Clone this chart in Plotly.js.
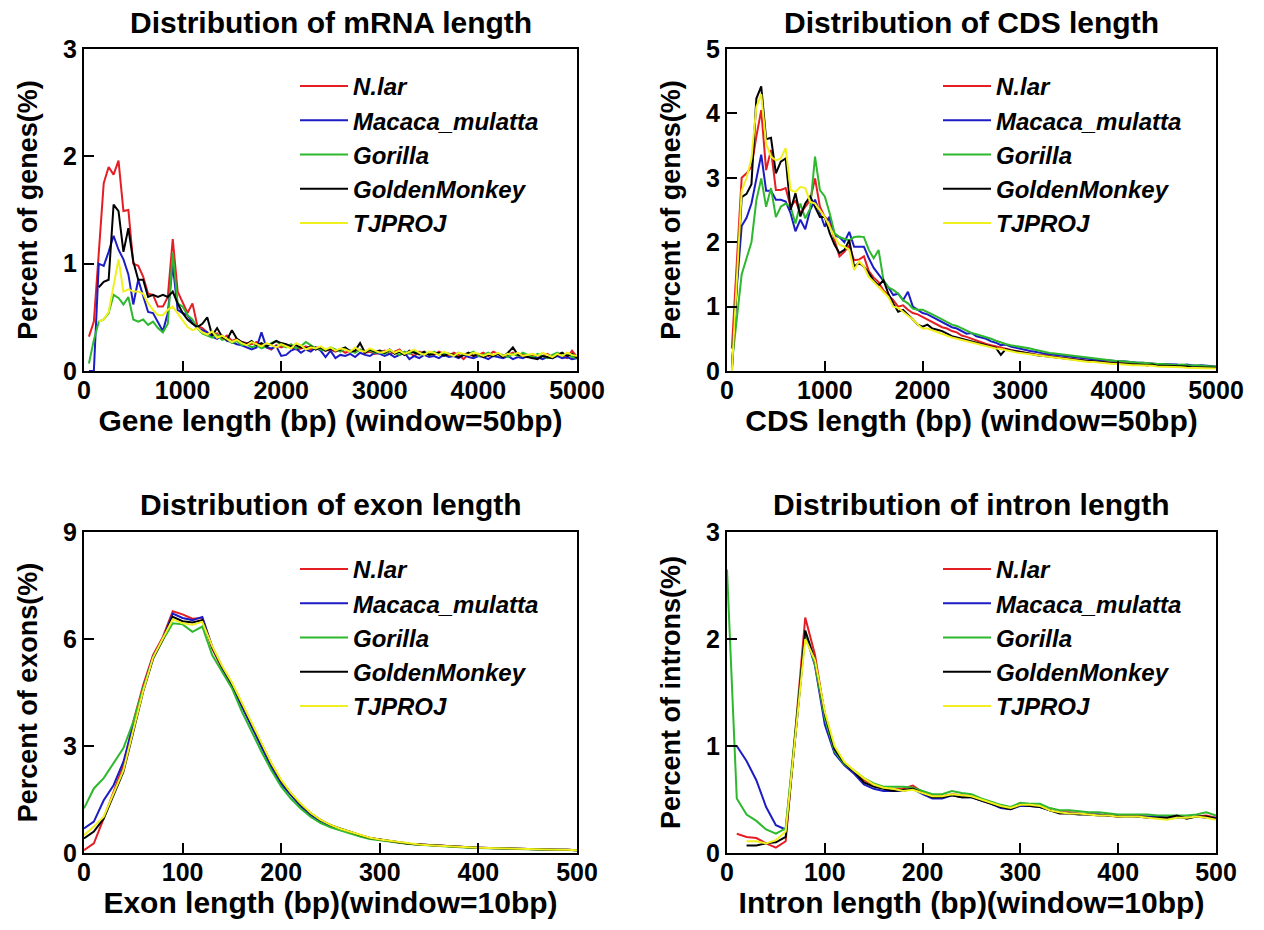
<!DOCTYPE html>
<html><head><meta charset="utf-8">
<script src="https://cdn.plot.ly/plotly-3.0.1.min.js"></script>
<style>html,body{margin:0;padding:0;background:#fff}#chart{width:1264px;height:930px}</style>
</head><body><div id="chart"></div>
<script>
const seriesNames = ['N.lar','Macaca_mulatta','Gorilla','GoldenMonkey','TJPROJ'];
const seriesColors = ['#e41e24','#1c1cc4','#2db82d','#000000','#f0f01e'];

// window = 50bp bins (mRNA and CDS)
const bins50 = [50,100,150,200,250,300,350,400,450,500,
550,600,650,700,750,800,850,900,950,1000,
1050,1100,1150,1200,1250,1300,1350,1400,1450,1500,
1550,1600,1650,1700,1750,1800,1850,1900,1950,2000,
2050,2100,2150,2200,2250,2300,2350,2400,2450,2500,
2550,2600,2650,2700,2750,2800,2850,2900,2950,3000,
3050,3100,3150,3200,3250,3300,3350,3400,3450,3500,
3550,3600,3650,3700,3750,3800,3850,3900,3950,4000,
4050,4100,4150,4200,4250,4300,4350,4400,4450,4500,
4550,4600,4650,4700,4750,4800,4850,4900,4950,5000];

// window = 10bp bins (exon and intron)
const bins10 = [0,10,20,30,40,50,60,70,80,90,
100,110,120,130,140,150,160,170,180,190,
200,210,220,230,240,250,260,270,280,290,
300,310,320,330,340,350,360,370,380,390,
400,410,420,430,440,450,460,470,480,490,500];

// ---- mRNA length (% of genes) ----
const mrnaNlar = [0.32,0.46,1.10,1.75,1.90,1.83,1.96,1.49,1.50,1.00,
0.98,0.88,0.72,0.71,0.60,0.60,0.69,1.23,0.74,0.64,
0.54,0.63,0.42,0.40,0.36,0.33,0.35,0.30,0.33,0.28,
0.30,0.27,0.26,0.25,0.27,0.24,0.22,0.20,0.24,0.22,
0.24,0.22,0.20,0.21,0.23,0.20,0.22,0.21,0.19,0.20,
0.18,0.20,0.17,0.19,0.18,0.20,0.17,0.18,0.16,0.17,
0.19,0.16,0.18,0.20,0.15,0.17,0.14,0.18,0.16,0.17,
0.15,0.18,0.16,0.14,0.17,0.15,0.11,0.16,0.14,0.15,
0.17,0.14,0.18,0.16,0.13,0.15,0.17,0.14,0.16,0.13,
0.15,0.12,0.14,0.16,0.13,0.15,0.14,0.12,0.19,0.13];
const mrnaMacaca = [0,0,1.00,0.98,1.11,1.26,1.13,1.04,0.90,0.62,
0.85,0.69,0.55,0.54,0.46,0.37,0.54,0.99,0.57,0.54,
0.52,0.45,0.40,0.38,0.36,0.32,0.30,0.33,0.28,0.27,
0.25,0.24,0.22,0.20,0.22,0.36,0.22,0.21,0.23,0.14,
0.15,0.19,0.21,0.17,0.20,0.18,0.22,0.19,0.13,0.19,
0.12,0.15,0.14,0.16,0.13,0.17,0.15,0.14,0.17,0.16,
0.14,0.16,0.13,0.15,0.17,0.11,0.14,0.12,0.15,0.13,
0.14,0.12,0.15,0.13,0.14,0.12,0.15,0.13,0.12,0.14,
0.13,0.11,0.14,0.13,0.12,0.14,0.11,0.13,0.12,0.14,
0.12,0.13,0.11,0.13,0.12,0.14,0.12,0.13,0.11,0.12];
const mrnaGorilla = [0.07,0.29,0.46,0.48,0.54,0.71,0.68,0.62,0.69,0.48,
0.46,0.48,0.43,0.46,0.40,0.36,0.44,1.10,0.63,0.60,
0.52,0.48,0.40,0.35,0.33,0.31,0.34,0.29,0.30,0.26,
0.28,0.24,0.25,0.22,0.24,0.21,0.23,0.26,0.28,0.24,
0.22,0.25,0.21,0.23,0.27,0.24,0.21,0.20,0.19,0.22,
0.20,0.18,0.21,0.19,0.17,0.20,0.18,0.19,0.17,0.18,
0.16,0.19,0.17,0.15,0.18,0.16,0.19,0.15,0.17,0.16,
0.18,0.15,0.17,0.16,0.14,0.17,0.15,0.16,0.18,0.14,
0.15,0.17,0.14,0.16,0.15,0.13,0.16,0.14,0.17,0.15,
0.13,0.16,0.14,0.12,0.15,0.17,0.14,0.16,0.13,0.12];
const mrnaGolden = [null,null,0.78,0.83,0.85,1.55,1.49,1.11,1.33,1.02,
0.85,0.85,0.69,0.71,0.69,0.71,0.69,0.74,0.63,0.54,
0.48,0.44,0.41,0.44,0.50,0.33,0.40,0.32,0.29,0.38,
0.30,0.27,0.25,0.28,0.24,0.26,0.23,0.25,0.28,0.26,
0.25,0.23,0.24,0.22,0.21,0.23,0.20,0.22,0.19,0.21,
0.19,0.20,0.22,0.18,0.19,0.26,0.17,0.20,0.18,0.19,
0.17,0.20,0.16,0.18,0.15,0.19,0.17,0.16,0.18,0.15,
0.16,0.17,0.14,0.16,0.15,0.13,0.15,0.17,0.14,0.16,
0.13,0.15,0.14,0.16,0.13,0.17,0.22,0.15,0.14,0.13,
0.12,0.11,0.14,0.13,0.12,0.15,0.17,0.14,0.16,0.12];
const mrnaTJPROJ = [null,null,0.46,0.48,0.55,0.79,1.04,0.74,0.76,0.74,
0.74,0.72,0.63,0.57,0.52,0.52,0.57,0.60,0.54,0.48,
0.41,0.38,0.40,0.36,0.34,0.37,0.31,0.33,0.30,0.27,
0.29,0.26,0.24,0.27,0.25,0.23,0.26,0.24,0.22,0.25,
0.23,0.21,0.26,0.24,0.20,0.22,0.21,0.23,0.20,0.22,
0.19,0.21,0.20,0.18,0.22,0.19,0.18,0.21,0.19,0.17,
0.18,0.20,0.17,0.19,0.16,0.18,0.20,0.17,0.15,0.18,
0.17,0.15,0.18,0.16,0.14,0.17,0.16,0.15,0.17,0.16,
0.14,0.16,0.15,0.17,0.14,0.16,0.15,0.17,0.14,0.15,
0.16,0.14,0.17,0.15,0.13,0.16,0.14,0.17,0.15,0.14];

// ---- CDS length (% of genes) ----
const cdsNlar = [0.35,1.60,3.00,3.07,3.17,3.64,4.05,3.12,3.43,2.81,
2.81,2.84,2.55,2.65,2.45,2.55,2.65,2.99,2.55,2.39,
2.34,2.03,1.78,1.85,1.95,1.72,1.73,1.78,1.55,1.45,
1.38,1.25,1.18,1.10,1.00,1.02,0.95,0.90,0.88,0.84,
0.80,0.76,0.72,0.68,0.66,0.62,0.60,0.55,0.53,0.50,
0.47,0.45,0.42,0.40,0.38,0.36,0.35,0.33,0.31,0.30,
0.28,0.27,0.26,0.24,0.25,0.23,0.22,0.21,0.20,0.19,
0.18,0.17,0.17,0.16,0.15,0.14,0.14,0.13,0.13,0.12,
0.12,0.11,0.11,0.10,0.10,0.09,0.10,0.09,0.08,0.08,
0.08,0.07,0.08,0.07,0.06,0.07,0.06,0.06,0.05,0.05];
const cdsMacaca = [0.05,1.30,2.25,2.38,2.60,2.97,3.36,2.80,2.80,2.66,
2.66,2.63,2.45,2.17,2.35,2.20,2.50,2.66,2.45,2.24,
2.40,2.10,2.08,2.00,2.16,1.93,1.93,1.93,1.75,1.60,
1.50,1.40,1.30,1.18,1.20,1.10,1.23,1.00,0.95,0.90,
0.88,0.84,0.80,0.76,0.72,0.68,0.66,0.62,0.58,0.59,
0.54,0.52,0.50,0.46,0.44,0.40,0.41,0.38,0.36,0.34,
0.33,0.31,0.30,0.28,0.27,0.26,0.25,0.24,0.23,0.22,
0.21,0.21,0.20,0.19,0.18,0.17,0.17,0.16,0.16,0.15,
0.15,0.14,0.14,0.13,0.13,0.12,0.12,0.11,0.11,0.11,
0.10,0.10,0.09,0.10,0.09,0.08,0.09,0.08,0.08,0.07];
const cdsGorilla = [0.12,0.85,1.50,1.75,2.00,2.65,2.99,2.55,2.84,2.39,
2.55,2.60,2.55,2.29,2.60,2.37,2.52,3.33,2.81,2.71,
2.45,2.14,2.08,2.05,2.03,2.08,2.09,2.08,1.88,1.75,
1.88,1.41,1.30,1.26,1.20,1.10,1.05,0.97,0.95,0.95,
0.92,0.88,0.84,0.80,0.76,0.72,0.70,0.66,0.62,0.59,
0.57,0.55,0.53,0.50,0.47,0.44,0.42,0.40,0.39,0.38,
0.36,0.35,0.33,0.31,0.30,0.28,0.27,0.26,0.25,0.24,
0.23,0.22,0.21,0.20,0.19,0.18,0.18,0.17,0.16,0.15,
0.15,0.14,0.14,0.13,0.13,0.12,0.12,0.11,0.11,0.10,
0.10,0.09,0.10,0.09,0.08,0.09,0.08,0.08,0.07,0.07];
const cdsGolden = [0.00,1.40,2.70,2.75,2.90,4.23,4.42,3.60,3.62,3.07,
3.25,3.30,2.50,2.76,2.40,2.60,2.71,2.55,2.39,2.39,
2.14,1.96,1.83,1.88,2.03,1.62,1.68,1.62,1.52,1.40,
1.33,1.41,1.20,1.05,0.92,0.95,0.88,0.80,0.72,0.69,
0.72,0.66,0.64,0.62,0.58,0.54,0.52,0.50,0.48,0.47,
0.45,0.43,0.40,0.38,0.36,0.25,0.34,0.32,0.31,0.30,
0.28,0.27,0.25,0.24,0.23,0.22,0.21,0.20,0.19,0.18,
0.18,0.17,0.16,0.15,0.15,0.14,0.13,0.13,0.12,0.12,
0.11,0.11,0.10,0.10,0.09,0.09,0.10,0.08,0.08,0.08,
0.07,0.07,0.08,0.07,0.06,0.06,0.06,0.05,0.05,0.05];
const cdsTJPROJ = [0.00,1.50,2.80,3.00,3.30,4.10,4.30,3.53,3.33,3.27,
3.30,3.46,2.81,2.78,2.86,2.84,2.63,2.60,2.50,2.39,
2.24,2.08,1.96,1.93,1.88,1.57,1.70,1.62,1.46,1.38,
1.30,1.22,1.15,1.00,0.98,0.92,0.86,0.80,0.72,0.66,
0.66,0.63,0.60,0.58,0.55,0.52,0.50,0.48,0.46,0.44,
0.42,0.40,0.39,0.37,0.35,0.34,0.32,0.30,0.29,0.28,
0.27,0.25,0.24,0.23,0.22,0.21,0.20,0.19,0.18,0.17,
0.16,0.16,0.15,0.14,0.14,0.13,0.12,0.12,0.11,0.11,
0.10,0.10,0.09,0.09,0.09,0.08,0.08,0.07,0.07,0.07,
0.06,0.06,0.06,0.05,0.05,0.05,0.04,0.04,0.04,0.04];

// ---- exon length (% of exons) ----
const exonNlar = [0.08,0.27,0.97,1.72,2.46,3.68,4.70,5.55,6.06,6.78,
6.69,6.57,6.59,5.73,5.17,4.70,4.15,3.59,3.03,2.46,
2.00,1.65,1.35,1.10,0.92,0.78,0.67,0.60,0.50,0.42,
0.38,0.33,0.29,0.26,0.24,0.22,0.20,0.19,0.17,0.16,
0.15,0.14,0.13,0.12,0.12,0.11,0.10,0.10,0.09,0.09,0.08];
const exonMacaca = [0.69,0.88,1.48,1.90,2.56,3.59,4.62,5.50,6.00,6.71,
6.59,6.53,6.62,5.78,5.20,4.68,4.10,3.52,2.95,2.40,
1.93,1.60,1.30,1.06,0.88,0.75,0.65,0.58,0.48,0.41,
0.37,0.32,0.29,0.26,0.24,0.22,0.20,0.18,0.17,0.16,
0.15,0.14,0.13,0.12,0.11,0.11,0.10,0.10,0.09,0.09,0.08];
const exonGorilla = [1.25,1.81,2.10,2.52,2.94,3.68,4.62,5.45,5.97,6.44,
6.41,6.20,6.35,5.55,5.08,4.62,3.97,3.40,2.84,2.32,
1.86,1.52,1.24,1.01,0.84,0.72,0.63,0.56,0.46,0.39,
0.35,0.31,0.28,0.25,0.23,0.21,0.19,0.18,0.16,0.15,
0.14,0.13,0.12,0.12,0.11,0.10,0.10,0.09,0.09,0.08,0.08];
const exonGolden = [0.41,0.60,0.97,1.62,2.28,3.40,4.53,5.45,6.00,6.62,
6.50,6.46,6.53,5.78,5.22,4.75,4.20,3.62,3.06,2.50,
2.02,1.66,1.36,1.11,0.92,0.78,0.68,0.60,0.50,0.42,
0.38,0.33,0.29,0.26,0.24,0.22,0.20,0.19,0.17,0.16,
0.15,0.14,0.13,0.12,0.12,0.11,0.10,0.10,0.09,0.09,0.08];
const exonTJPROJ = [0.50,0.74,1.02,1.66,2.32,3.45,4.55,5.48,6.00,6.55,
6.44,6.40,6.48,5.80,5.25,4.78,4.22,3.65,3.08,2.52,
2.05,1.68,1.38,1.12,0.93,0.79,0.68,0.60,0.51,0.43,
0.38,0.34,0.30,0.27,0.24,0.22,0.20,0.19,0.17,0.16,
0.15,0.14,0.13,0.12,0.12,0.11,0.10,0.10,0.09,0.09,0.08];

// ---- intron length (% of introns) ----
const intronNlar = [null,0.18,0.15,0.14,0.09,0.05,0.11,1.15,2.20,1.85,
1.29,0.97,0.83,0.76,0.68,0.64,0.61,0.60,0.60,0.63,
0.57,0.53,0.53,0.55,0.54,0.53,0.50,0.47,0.44,0.42,
0.46,0.45,0.44,0.40,0.38,0.38,0.37,0.36,0.36,0.35,
0.34,0.35,0.35,0.34,0.33,0.33,0.34,0.33,0.34,0.35,0.33];
const intronMacaca = [1.00,1.00,0.86,0.68,0.43,0.26,0.22,1.10,2.05,1.75,
1.20,0.93,0.82,0.74,0.64,0.60,0.58,0.58,0.58,0.60,
0.55,0.51,0.51,0.54,0.52,0.52,0.49,0.46,0.42,0.41,
0.44,0.44,0.43,0.40,0.38,0.37,0.37,0.36,0.36,0.35,
0.35,0.35,0.34,0.34,0.34,0.33,0.33,0.33,0.34,0.33,0.33];
const intronGorilla = [2.65,0.51,0.36,0.30,0.22,0.18,0.23,1.12,2.07,1.76,
1.26,0.95,0.83,0.77,0.70,0.65,0.62,0.62,0.62,0.61,
0.58,0.55,0.55,0.58,0.56,0.55,0.51,0.48,0.45,0.43,
0.47,0.46,0.46,0.42,0.40,0.40,0.39,0.38,0.38,0.37,
0.36,0.36,0.36,0.36,0.35,0.35,0.35,0.35,0.36,0.38,0.35];
const intronGolden = [null,null,0.07,0.07,0.09,0.10,0.15,1.10,2.08,1.80,
1.30,0.97,0.84,0.76,0.66,0.62,0.60,0.58,0.59,0.60,
0.56,0.52,0.52,0.54,0.52,0.52,0.49,0.46,0.43,0.41,
0.45,0.44,0.43,0.40,0.37,0.37,0.36,0.36,0.35,0.35,
0.34,0.34,0.34,0.33,0.33,0.33,0.35,0.32,0.34,0.34,0.32];
const intronTJPROJ = [null,null,0.11,0.11,0.09,0.12,0.20,1.08,2.00,1.80,
1.32,1.00,0.85,0.77,0.70,0.64,0.61,0.60,0.58,0.59,
0.56,0.53,0.53,0.55,0.54,0.53,0.50,0.47,0.44,0.42,
0.45,0.45,0.44,0.40,0.38,0.37,0.37,0.36,0.35,0.35,
0.34,0.34,0.34,0.33,0.32,0.31,0.33,0.33,0.34,0.33,0.31];

const panelTitles = ['Distribution of mRNA length','Distribution of CDS length','Distribution of exon length','Distribution of intron length'];
const xTitles = ['Gene length (bp) (window=50bp)','CDS length (bp) (window=50bp)','Exon length (bp)(window=10bp)','Intron length (bp)(window=10bp)'];
const yTitles = ['Percent of genes(%)','Percent of genes(%)','Percent of exons(%)','Percent of introns(%)'];

const panels = [
  {x: bins50, ys: [mrnaNlar, mrnaMacaca, mrnaGorilla, mrnaGolden, mrnaTJPROJ]},
  {x: bins50, ys: [cdsNlar, cdsMacaca, cdsGorilla, cdsGolden, cdsTJPROJ]},
  {x: bins10, ys: [exonNlar, exonMacaca, exonGorilla, exonGolden, exonTJPROJ]},
  {x: bins10, ys: [intronNlar, intronMacaca, intronGorilla, intronGolden, intronTJPROJ]}
];

const W = 1264, H = 930;
const FONT = 'Liberation Sans, Arial, sans-serif';
// plot boxes in px: [left, right, top, bottom]
const boxes = [[84,577,49,371],[727,1216,49,371],[84,577,532,853],[727,1216,532,853]];
const xRanges = [[0,5000],[0,5000],[0,500],[0,500]];
const xDticks = [1000,1000,100,100];
const yRanges = [[0,3],[0,5],[0,9],[0,3]];
const yDticks = [1,1,3,1];

const traces = [];
panels.forEach((p, i) => {
  const sfx = i === 0 ? '' : String(i + 1);
  p.ys.forEach((y, k) => {
    traces.push({
      type: 'scatter', mode: 'lines', x: p.x, y: y,
      name: seriesNames[k], xaxis: 'x' + sfx, yaxis: 'y' + sfx,
      legend: 'legend' + sfx,
      line: {color: seriesColors[k], width: 2},
      connectgaps: false, hoverinfo: 'x+y+name'
    });
  });
});

const layout = {
  width: W, height: H, autosize: false,
  margin: {l: 0, r: 0, t: 0, b: 0},
  paper_bgcolor: '#fff', plot_bgcolor: '#fff',
  font: {family: FONT, color: '#000'},
  annotations: [], showlegend: true
};

boxes.forEach((b, i) => {
  const sfx = i === 0 ? '' : String(i + 1);
  const common = {
    showline: true, mirror: true, linecolor: '#000', linewidth: 2,
    ticks: 'inside', ticklen: 10, tickwidth: 2, tickcolor: '#000',
    showgrid: false, zeroline: false, automargin: false, fixedrange: true,
    tickfont: {family: FONT, size: 25, weight: 'bold', color: '#000'}
  };
  layout['xaxis' + sfx] = Object.assign({}, common, {
    domain: [b[0] / W, b[1] / W], range: xRanges[i], dtick: xDticks[i], tick0: 0,
    anchor: 'y' + sfx, ticklabelstandoff: -4,
    title: {text: xTitles[i], font: {family: FONT, size: 30, weight: 'bold', color: '#000'}, standoff: 5}
  });
  layout['yaxis' + sfx] = Object.assign({}, common, {
    domain: [1 - b[3] / H, 1 - b[2] / H], range: yRanges[i], dtick: yDticks[i], tick0: 0,
    anchor: 'x' + sfx,
    title: {text: yTitles[i], font: {family: FONT, size: 27, weight: 'bold', color: '#000'}, standoff: 18}
  });
  layout.annotations.push({
    text: panelTitles[i], xref: 'paper', yref: 'paper',
    x: (b[0] + b[1]) / 2 / W, y: 1 - (b[2] - 27) / H,
    xanchor: 'center', yanchor: 'middle', showarrow: false,
    font: {family: FONT, size: 30, weight: 'bold', color: '#000'}
  });
  layout['legend' + sfx] = {
    x: (b[0] + 211) / W, xanchor: 'left',
    y: 1 - (b[2] + 15) / H, yanchor: 'top',
    bgcolor: 'rgba(0,0,0,0)', borderwidth: 0,
    itemwidth: 48, tracegroupgap: 0,
    font: {family: FONT, size: 24, weight: 'bold', style: 'italic', color: '#000'}
  };
});

Plotly.newPlot('chart', traces, layout, {displayModeBar: false, staticPlot: true});
</script>
</body></html>
